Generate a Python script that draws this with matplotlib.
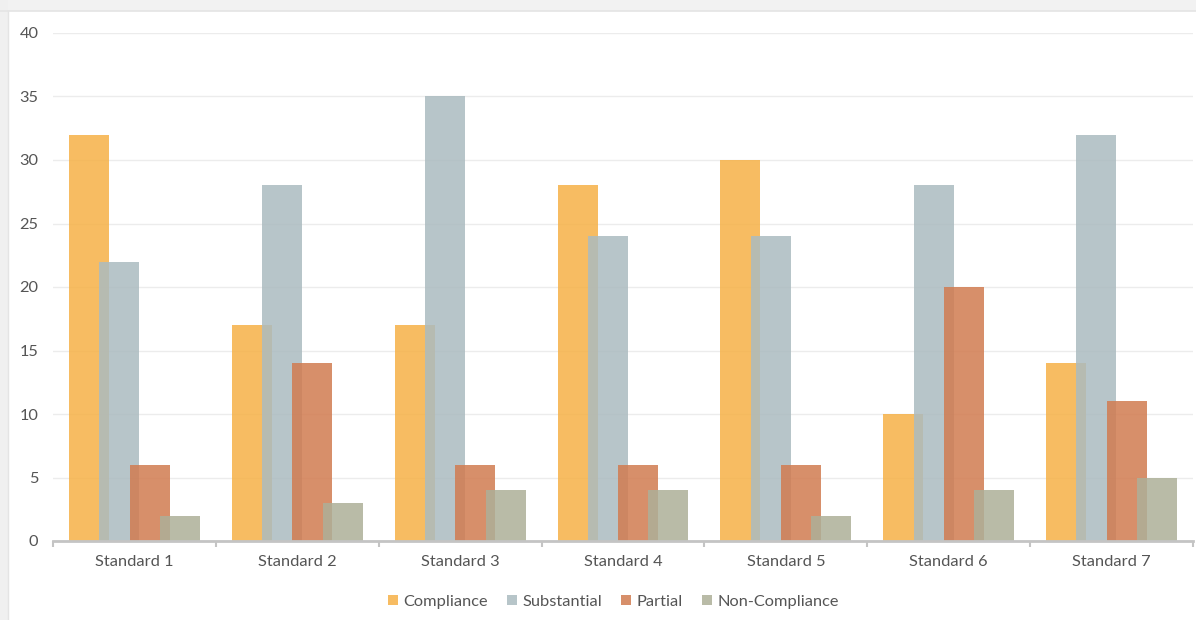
import matplotlib
matplotlib.use("Agg")
import matplotlib.pyplot as plt
import numpy as np
from matplotlib.patches import Rectangle
from matplotlib.lines import Line2D

categories = ["Standard 1", "Standard 2", "Standard 3", "Standard 4",
              "Standard 5", "Standard 6", "Standard 7"]
compliance = [32, 17, 17, 28, 30, 10, 14]
substantial = [22, 28, 35, 24, 24, 28, 32]
partial = [6, 14, 6, 6, 6, 20, 11]
non_compliance = [2, 3, 4, 4, 2, 4, 5]
series_names = ["Compliance", "Substantial", "Partial", "Non-Compliance"]
series_values = [compliance, substantial, partial, non_compliance]
colors = ["#F6B146", "#ABBBC0", "#D17B50", "#ADB098"]
y_ticks = [0, 5, 10, 15, 20, 25, 30, 35, 40]

plt.rcParams['font.family'] = ['Lato', 'DejaVu Sans']

W, H = 1196, 620
fig = plt.figure(figsize=(W / 100, H / 100), dpi=100, facecolor="white")

# card background decoration
fig.patches.append(Rectangle((0, 1 - 11 / H), 1, 11 / H, transform=fig.transFigure,
                             facecolor="#f2f2f2", edgecolor="none", zorder=0))
fig.patches.append(Rectangle((0, 0), 8 / W, 1, transform=fig.transFigure,
                             facecolor="#f0f0f0", edgecolor="none", zorder=0))
fig.lines.append(Line2D([0, 1], [1 - 11 / H, 1 - 11 / H], transform=fig.transFigure,
                        color="#e4e4e4", lw=1.2, zorder=1))
fig.lines.append(Line2D([8 / W, 8 / W], [0, 1 - 11 / H], transform=fig.transFigure,
                        color="#e4e4e4", lw=1.0, zorder=1))

ax = fig.add_axes([53 / W, 1 - 541 / H, (1193 - 53) / W, (541 - 33) / H])
ax.set_facecolor("none")

n = len(categories)
x = np.arange(n)
step = 0.186
width = 0.245
offsets = [-1.5 * step, -0.5 * step, 0.5 * step, 1.5 * step]
for vals, name, col, off in zip(series_values, series_names, colors, offsets):
    ax.bar(x + off, vals, width=width, color=col, alpha=0.85, label=name,
           edgecolor="none", zorder=3)

ax.set_xlim(-0.5, n - 0.5)
ax.set_ylim(0, 40)
ax.set_yticks(y_ticks)
ax.set_yticklabels([str(v) for v in y_ticks])
ax.set_xticks(x)
ax.set_xticklabels(categories)
ax.set_xticks(np.arange(-0.5, n, 1.0), minor=True)

ax.grid(axis="y", color="#ececec", lw=1.0, zorder=0)
ax.set_axisbelow(True)
for s in ["top", "right", "left"]:
    ax.spines[s].set_visible(False)
ax.spines["bottom"].set_color("#c4c4c4")
ax.spines["bottom"].set_linewidth(2.0)
ax.spines["bottom"].set_zorder(4)

ax.tick_params(axis="y", length=0, pad=10.5, labelsize=11.8, labelcolor="#555555")
ax.tick_params(axis="x", which="major", length=0, pad=10, labelsize=11.8,
               labelcolor="#555555")
ax.tick_params(axis="x", which="minor", length=4, width=1.5, color="#c4c4c4")

handles, labels = ax.get_legend_handles_labels()
leg = fig.legend(handles, labels, loc="center", bbox_to_anchor=(0.513, 1 - 602 / H),
                 ncol=4, frameon=False, fontsize=11.8, handlelength=0.6,
                 handleheight=0.6, handletextpad=0.35, columnspacing=1.15)
for t in leg.get_texts():
    t.set_color("#555555")

fig.savefig("out.png", dpi=100, facecolor="white")
